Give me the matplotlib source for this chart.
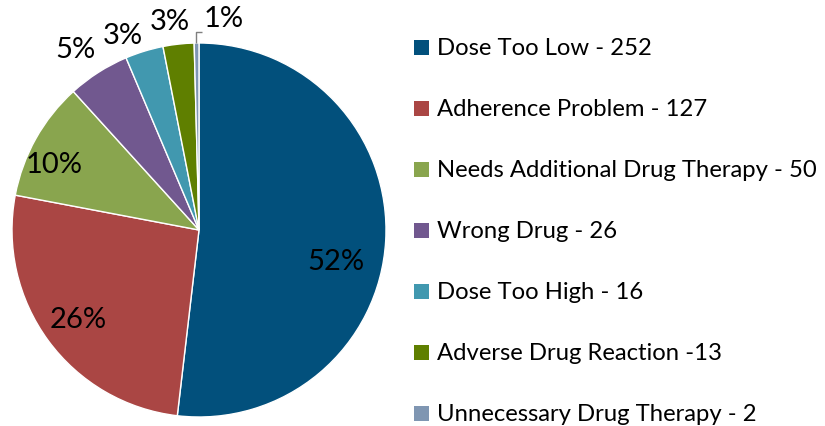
import numpy as np
import matplotlib
matplotlib.use("Agg")
import matplotlib.pyplot as plt

# Drug therapy problems, counts by category
categories = ["Dose Too Low", "Adherence Problem", "Needs Additional Drug Therapy",
              "Wrong Drug", "Dose Too High", "Adverse Drug Reaction",
              "Unnecessary Drug Therapy"]
counts = [252, 127, 50, 26, 16, 13, 2]
pct_labels = ["52%", "26%", "10%", "5%", "3%", "3%", "1%"]
legend_labels = ["Dose Too Low - 252", "Adherence Problem - 127",
                 "Needs Additional Drug Therapy - 50", "Wrong Drug - 26",
                 "Dose Too High - 16", "Adverse Drug Reaction -13",
                 "Unnecessary Drug Therapy - 2"]
colors = ["#02507C", "#AA4644", "#89A54E", "#71588F", "#4198AF", "#5F7F00", "#7F96B2"]

# label placement: radial distance (in radii) and angular nudge (degrees)
label_r = [0.75, 0.80, 0.85, 1.17, 1.12, 1.13, 1.14]
label_dtheta = [-9.5, 0.0, 4.7, 1.8, 4.2, 1.6, -7.5]

W, H = 825, 427
fig = plt.figure(figsize=(W / 100, H / 100), dpi=100)
ax = fig.add_axes([0, 0, 1, 1])

cx, cy, R = 199, H - 231, 187
wedges, _ = ax.pie(counts, colors=colors, startangle=90, counterclock=False,
                   center=(cx, cy), radius=R,
                   wedgeprops=dict(edgecolor="white", linewidth=1.0))
ax.set_xlim(0, W)
ax.set_ylim(0, H)
ax.set_aspect("equal")
ax.axis("off")

font = "Lato"
for i, (w, pct) in enumerate(zip(wedges, pct_labels)):
    mid = 0.5 * (w.theta1 + w.theta2) + label_dtheta[i]
    t = np.deg2rad(mid)
    x = cx + label_r[i] * R * np.cos(t)
    y = cy + label_r[i] * R * np.sin(t)
    ax.text(x, y, pct, ha="center", va="center", fontsize=21,
            family=font, color="#000000")
    if i == len(counts) - 1:
        # leader line from the thin slice to its label
        tm = np.deg2rad(0.5 * (w.theta1 + w.theta2))
        x0 = cx + R * np.cos(tm)
        y0 = cy + R * np.sin(tm)
        ax.plot([x0 - 1, x0 - 1, x0 + 5], [y0, y0 + 11, y0 + 11],
                color="#7F7F7F", lw=1.0, solid_capstyle="butt")

# legend with square swatches
lx, ly0, dy = 414, H - 48.5, 61
for i, (lab, c) in enumerate(zip(legend_labels, colors)):
    y = ly0 - i * dy
    ax.add_patch(plt.Rectangle((lx, y - 7.5), 15, 15, color=c, lw=0))
    ax.text(lx + 23, y, lab, ha="left", va="center", fontsize=17.2,
            family=font, color="#000000")

fig.savefig("out.png", dpi=100)
